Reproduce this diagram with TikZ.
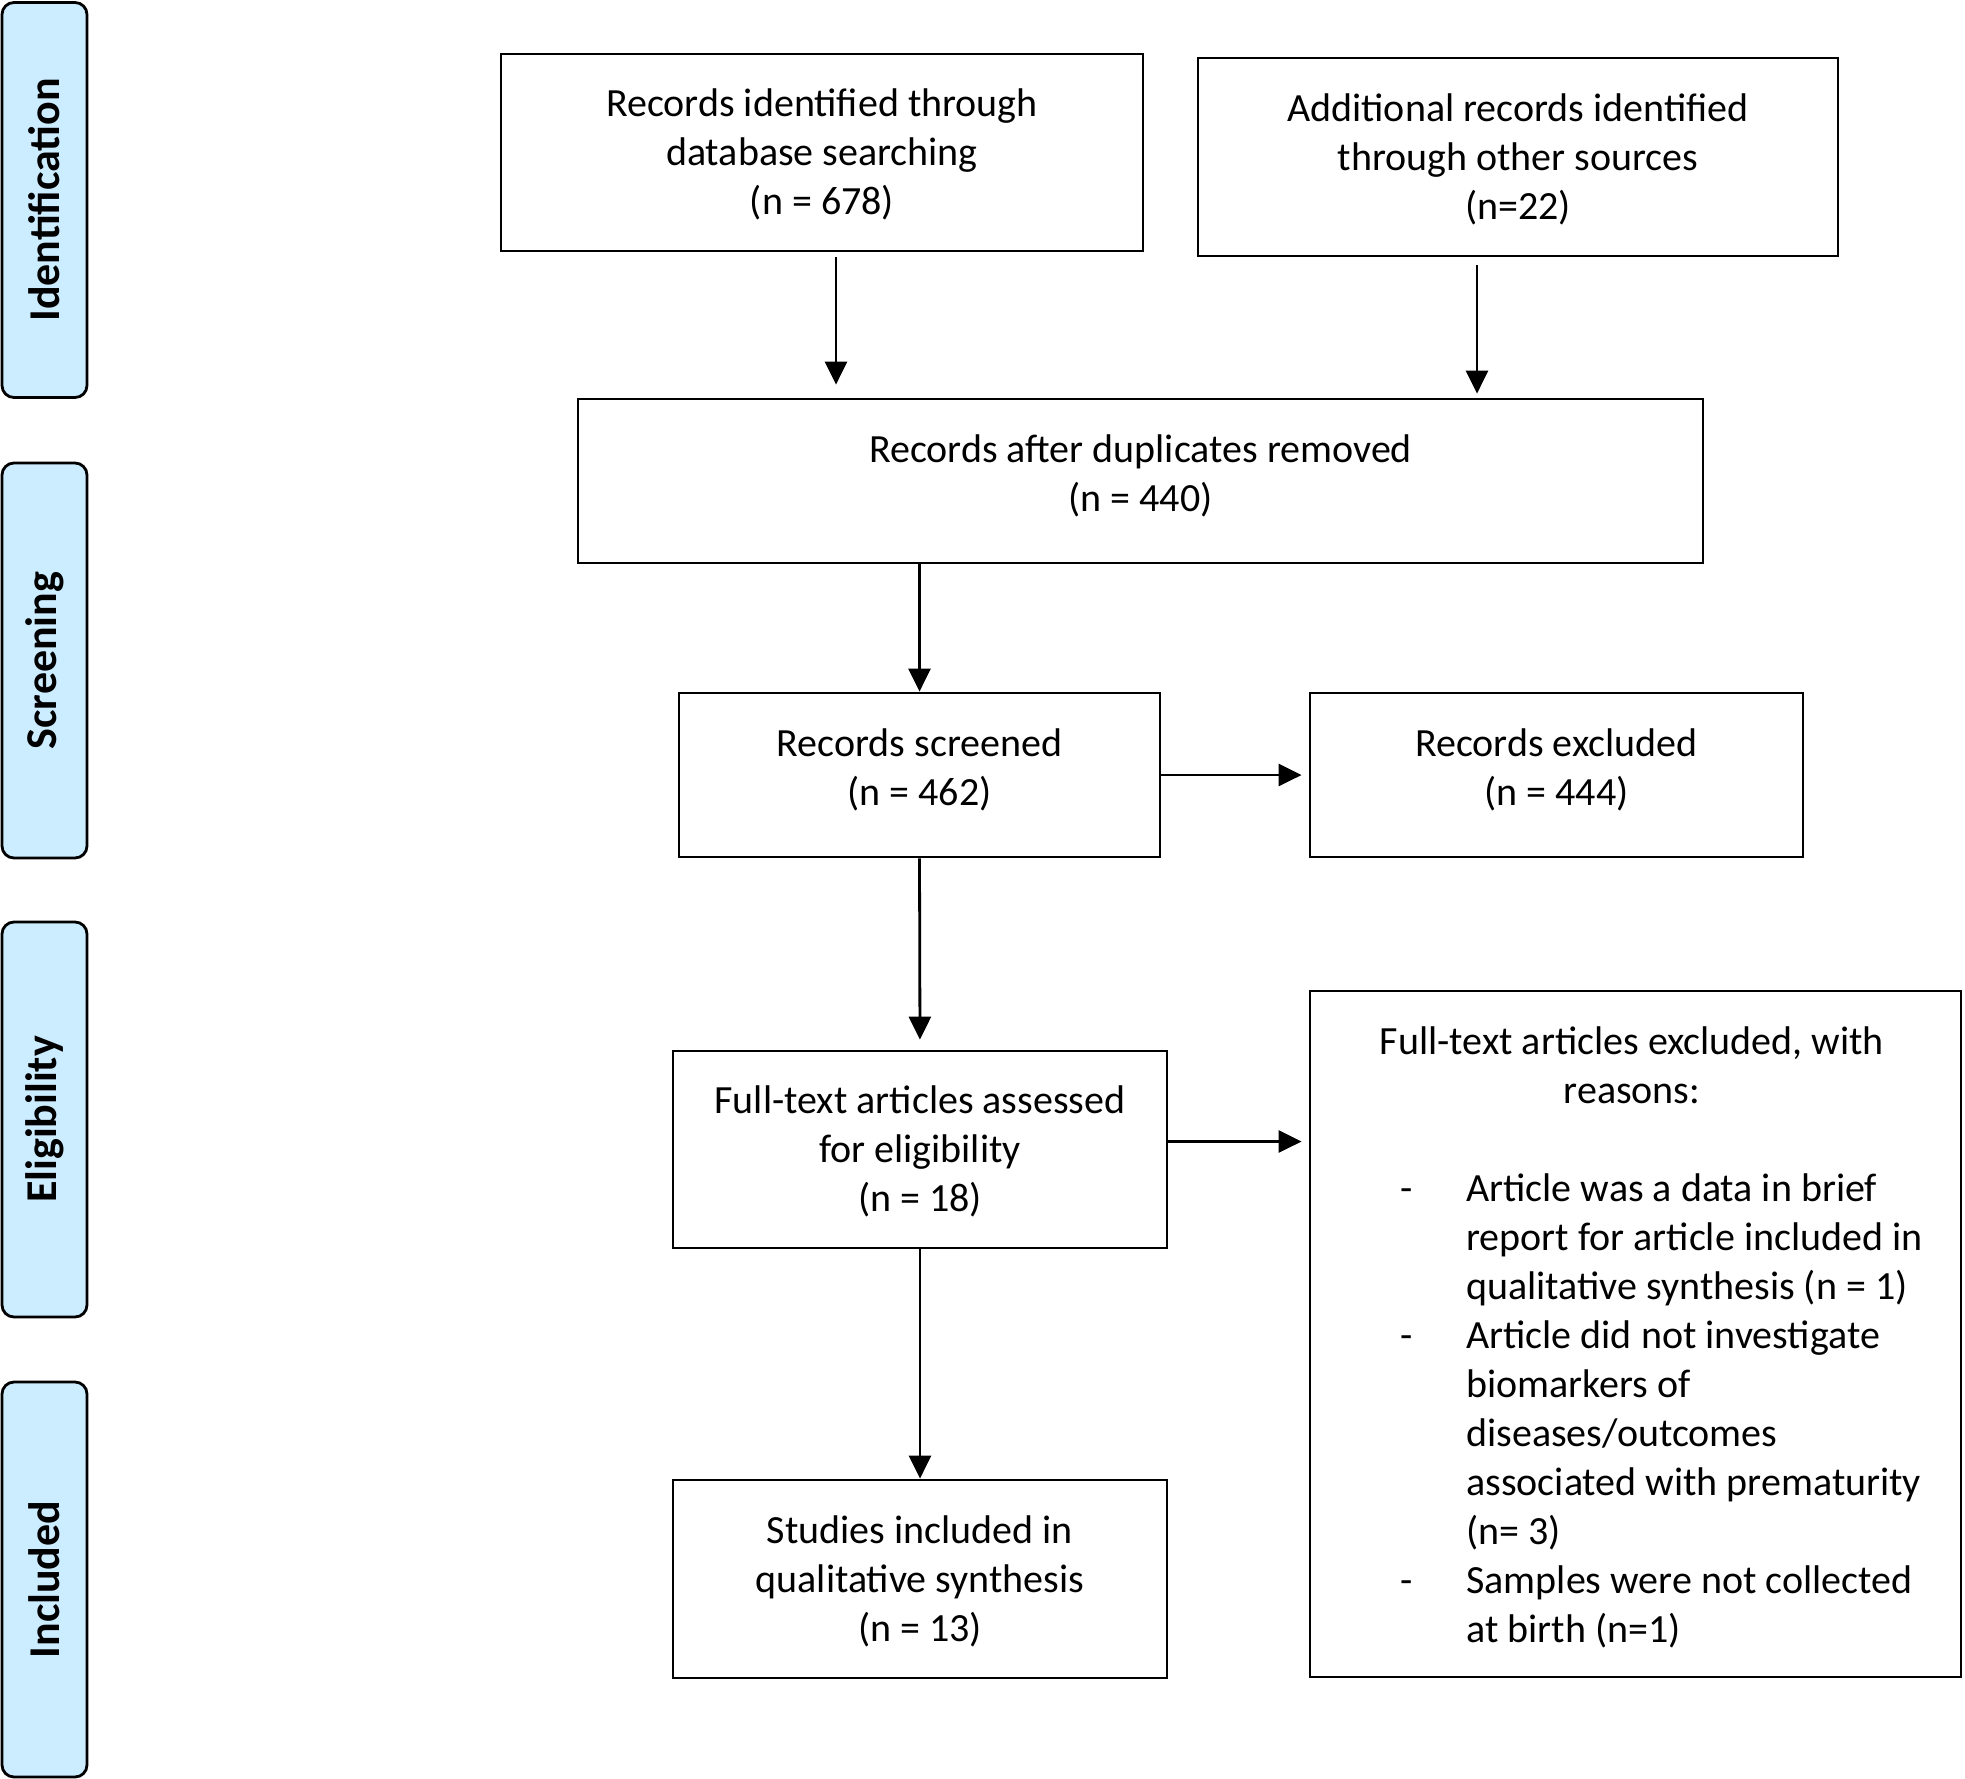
\documentclass[tikz,border=0pt]{standalone}
\usepackage{fontspec}
\setmainfont{Carlito}
\usetikzlibrary{arrows.meta}
\definecolor{barblue}{RGB}{204,236,255}
\newcommand{\mylines}[2]{\raisebox{#1}[0pt][0pt]{\begin{tabular}{@{}c@{}}#2\end{tabular}}}
\begin{document}
\begin{tikzpicture}[x=0.5pt,y=-0.5pt,
 box/.style={draw, line width=1.4pt, font=\fontsize{20}{24.5}\selectfont, inner sep=0pt},
 txt/.style={align=center, font=\fontsize{20}{24.5}\selectfont, inner sep=0pt},
 phase/.style={draw, line width=1.4pt, fill=barblue, rounded corners=6pt, rotate=90,
   minimum width=197.5pt, minimum height=42.5pt, inner sep=0pt,
   font=\fontsize{22}{26}\selectfont\bfseries},
 arr/.style={line width=1.4pt, -{Triangle[length=11.5pt,width=11pt]}}]
\useasboundingbox (0,0) rectangle (1965,1778);

% phase bars
\node[phase] (pid) at (44.5,200) {Identification};
\node[phase] (psc) at (44.5,660.5) {Screening};
\node[phase] (pel) at (44.5,1119.5) {Eligibility};
\node[phase] (pin) at (44.5,1579.5) {Included};

% boxes
\node[box, minimum width=321pt, minimum height=98.5pt] (db) at (822,152.5)
  {\mylines{-6.9pt}{Records identified through\\database searching\\(n = 678)}};
\node[box, minimum width=320pt, minimum height=99pt] (add) at (1518,157)
  {\mylines{-6.9pt}{Additional records identified\\through other sources\\(n=22)}};
\node[box, minimum width=562.5pt, minimum height=82pt] (dup) at (1140.5,481)
  {\mylines{-3.1pt}{Records after duplicates removed\\(n = 440)}};
\node[box, minimum width=240.5pt, minimum height=82pt] (scr) at (919.5,775)
  {\mylines{-3.1pt}{Records screened\\(n = 462)}};
\node[box, minimum width=246.5pt, minimum height=82pt] (exc) at (1556.5,775)
  {\mylines{-3.1pt}{Records excluded\\(n = 444)}};
\node[box, minimum width=247pt, minimum height=98.5pt] (ft) at (920,1149.5)
  {\mylines{-6.9pt}{Full-text articles assessed\\for eligibility\\(n = 18)}};
\node[box, minimum width=247pt, minimum height=99pt] (st) at (920,1579)
  {\mylines{-6.9pt}{Studies included in\\qualitative synthesis\\(n = 13)}};
\node[box, minimum width=325.5pt, minimum height=343pt] (rs) at (1635.5,1334) {};

\node[txt] (rshead) at (1632,1065) {Full-text articles excluded, with\\reasons:};
\node[txt, anchor=west] (rslist) at (1400,1412) {\begin{tabular}{@{}p{33pt}@{}l@{}}
- & Article was a data in brief\\
  & report for article included in\\
  & qualitative synthesis (n = 1)\\
- & Article did not investigate\\
  & biomarkers of\\
  & diseases/outcomes\\
  & associated with prematurity\\
  & (n= 3)\\
- & Samples were not collected\\
  & at birth (n=1)
\end{tabular}};

% arrows
\draw[arr, shorten <=2.5pt, shorten >=6.5pt] ([xshift=7pt]db.south) -- ([xshift=7pt]db.south |- dup.north);
\draw[arr, shorten <=4pt, shorten >=2pt] ([xshift=-20.5pt]add.south) -- ([xshift=-20.5pt]add.south |- dup.north);
\draw[arr] (dup.south -| scr.north) -- (scr.north);
\draw[arr, shorten >=3.5pt] (scr.east) -- (scr.east -| exc.west);
\draw[arr, shorten >=5pt] (scr.south) -- (ft.north);
\draw[arr, shorten >=3.5pt] ([yshift=4pt]ft.east) -- ([yshift=4pt]ft.east -| rs.west);
\draw[arr] (ft.south) -- (st.north);
\end{tikzpicture}
\end{document}
